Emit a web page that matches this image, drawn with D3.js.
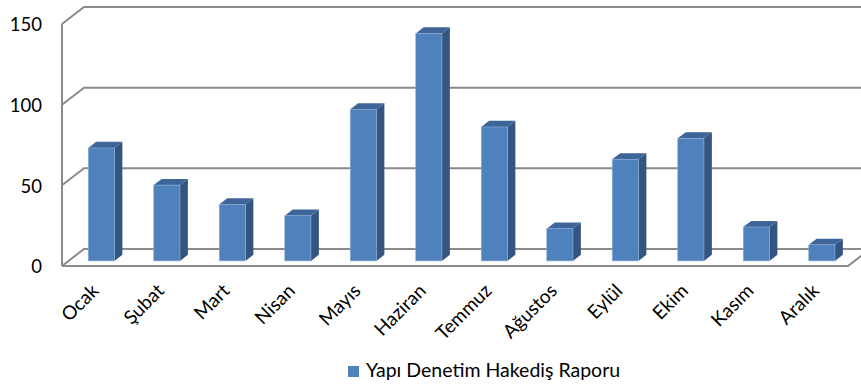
<!DOCTYPE html>
<html>
<head>
<meta charset="utf-8">
<script src="https://cdn.jsdelivr.net/npm/d3@7"></script>
<style>
  html, body { margin: 0; padding: 0; background: #fff; }
  svg { display: block; }
  text { font-family: Lato, "Open Sans", sans-serif; fill: #000; }
</style>
</head>
<body>
<svg id="chart" width="861" height="385"></svg>
<script>
// Monthly counts
const months = ["Ocak", "Şubat", "Mart", "Nisan", "Mayıs", "Haziran", "Temmuz", "Ağustos", "Eylül", "Ekim", "Kasım", "Aralık"];
const values = [70, 47, 35, 28, 94, 141, 83, 20, 63, 76, 21, 10];
const yTicks = [0, 50, 100, 150];
const seriesName = "Yapı Denetim Hakediş Raporu";

const svg = d3.select("#chart");

// Front plane of the 3D box and its depth offset
const left = 62, right = 848, floorY = 266, topY = 24;
const depthX = 22, depthY = -17;
const proj = (x, y, t) => [x + t * depthX, y + t * depthY];

const x = d3.scaleBand().domain(months).range([left, right]).paddingInner(0.6).paddingOuter(0.3);
const y = d3.scaleLinear().domain([0, 150]).range([floorY, topY]);

const gridColor = "#8a8a8a";

// Walls: side-wall diagonals and back-wall gridlines
const grid = svg.append("g").attr("fill", "none").attr("stroke", gridColor).attr("stroke-width", 2);
yTicks.forEach(v => {
  const p0 = [left, y(v)];
  const p1 = proj(left, y(v), 1);
  const p2 = proj(right + 40, y(v), 1);
  grid.append("polyline").attr("points", [p0, p1, p2].map(p => p.join(",")).join(" "));
});
// Left axis edge
grid.append("line").attr("x1", left).attr("x2", left).attr("y1", y(150)).attr("y2", y(0));
// Floor front edge and right edge
const fr = proj(right, y(0), 1);
grid.append("polyline")
  .attr("points", [[left, y(0)], [right, y(0)], fr].map(p => p.join(",")).join(" "));

// Bars (front face at depth t1, back at t2)
const t1 = 0.3, t2 = 0.66;
const bars = svg.append("g");
months.forEach((m, i) => {
  const v = values[i];
  const bx = x(m), bw = x.bandwidth();
  const [fx0, fyTop] = proj(bx, y(v), t1);
  const [, fyBot] = proj(bx, y(0), t1);
  const fx1 = fx0 + bw;
  const ddx = (t2 - t1) * depthX, ddy = (t2 - t1) * depthY;
  // right side
  bars.append("polygon")
    .attr("points", [[fx1, fyTop], [fx1 + ddx, fyTop + ddy], [fx1 + ddx, fyBot + ddy], [fx1, fyBot]].map(p => p.join(",")).join(" "))
    .attr("fill", "#33557f");
  // top
  bars.append("polygon")
    .attr("points", [[fx0, fyTop], [fx0 + ddx, fyTop + ddy], [fx1 + ddx, fyTop + ddy], [fx1, fyTop]].map(p => p.join(",")).join(" "))
    .attr("fill", "#3d6597");
  // front
  bars.append("rect")
    .attr("x", fx0).attr("y", fyTop)
    .attr("width", bw).attr("height", fyBot - fyTop)
    .attr("fill", "#4f81bd")
    .attr("stroke", "#8fb0d8").attr("stroke-width", 0.6);
});

// Value axis labels
const yAxis = svg.append("g")
  .attr("transform", `translate(${left - 20},0)`)
  .call(d3.axisLeft(y).tickValues(yTicks).tickSize(0).tickPadding(0));
yAxis.select(".domain").remove();
yAxis.selectAll("text")
  .attr("font-family", "Lato, sans-serif")
  .attr("font-size", 18.5)
  .attr("fill", "#000")
  .attr("dy", "0.36em");

// Category labels, rotated
svg.append("g").selectAll("text")
  .data(months)
  .join("text")
  .attr("transform", d => `translate(${x(d) + x.bandwidth() / 2 + 5},292) rotate(-45)`)
  .attr("text-anchor", "end")
  .attr("font-size", 19)
  .text(d => d);

// Legend
const legend = svg.append("g").attr("transform", "translate(348,366)");
legend.append("rect").attr("width", 11).attr("height", 11).attr("fill", "#4f81bd");
legend.append("text").attr("x", 18).attr("y", 11).attr("font-size", 19.5).text(seriesName);
</script>
</body>
</html>
